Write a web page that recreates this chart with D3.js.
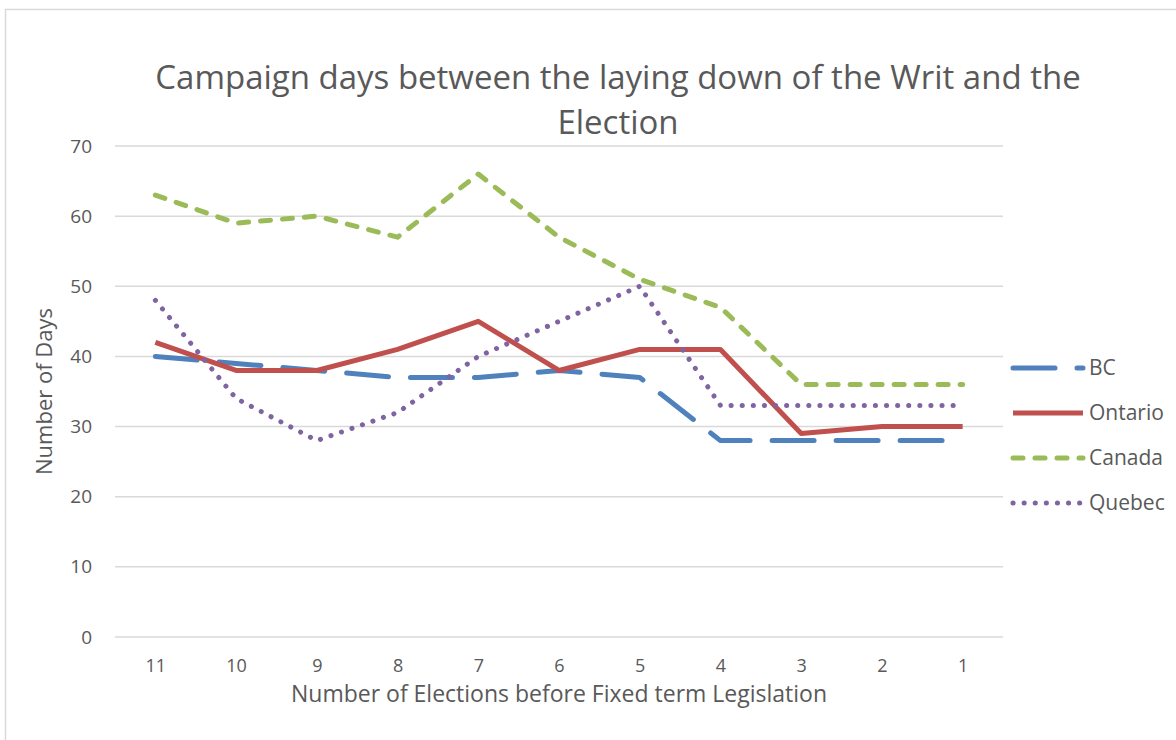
<!DOCTYPE html>
<html>
<head>
<meta charset="utf-8">
<script src="https://cdn.jsdelivr.net/npm/d3@7"></script>
<style>
  body { margin: 0; background: #fff; }
  text { font-family: "Open Sans", "Noto Sans", sans-serif; fill: #595959; }
</style>
</head>
<body>
<div id="chart"></div>
<script>
const width = 1176;
const height = 740;

const categories = ["11", "10", "9", "8", "7", "6", "5", "4", "3", "2", "1"];
const bcDays      = [40, 39, 38, 37, 37, 38, 37, 28, 28, 28, 28];
const ontarioDays = [42, 38, 38, 41, 45, 38, 41, 41, 29, 30, 30];
const canadaDays  = [63, 59, 60, 57, 66, 57, 51, 47, 36, 36, 36];
const quebecDays  = [48, 34, 28, 32, 40, 45, 50, 33, 33, 33, 33];
const yTicks = [0, 10, 20, 30, 40, 50, 60, 70];

const series = [
  { name: "BC", values: bcDays, color: "#4f81bd", dash: "42,22" },
  { name: "Ontario", values: ontarioDays, color: "#c0504d", dash: null },
  { name: "Canada", values: canadaDays, color: "#9bbb59", dash: "10,12" },
  { name: "Quebec", values: quebecDays, color: "#8064a2", dash: "0.1,11" }
];

const plot = { left: 115, right: 1003, top: 146, bottom: 637 };

const svg = d3.select("#chart")
  .append("svg")
  .attr("width", width)
  .attr("height", height);

// chart border
svg.append("rect")
  .attr("x", 5.5).attr("y", 9.5)
  .attr("width", width).attr("height", height)
  .attr("fill", "none")
  .attr("stroke", "#d9d9d9")
  .attr("stroke-width", 1.5);

const x = d3.scalePoint()
  .domain(categories)
  .range([plot.left, plot.right])
  .padding(0.5);

const y = d3.scaleLinear()
  .domain([0, 70])
  .range([plot.bottom, plot.top]);

// gridlines
svg.append("g")
  .selectAll("line")
  .data(yTicks)
  .enter()
  .append("line")
  .attr("x1", plot.left)
  .attr("x2", plot.right)
  .attr("y1", d => y(d))
  .attr("y2", d => y(d))
  .attr("stroke", "#d9d9d9")
  .attr("stroke-width", 1.5);

// y axis labels
const yAxis = d3.axisLeft(y).tickValues(yTicks).tickSize(0).tickPadding(0);
svg.append("g")
  .attr("transform", `translate(92,0)`)
  .call(yAxis)
  .call(g => g.select(".domain").remove())
  .call(g => g.selectAll("text")
    .attr("font-size", 19)
    .attr("fill", "#595959")
    .attr("font-family", "Open Sans, sans-serif"));

// x axis labels
const xAxis = d3.axisBottom(x).tickSize(0).tickPadding(0);
svg.append("g")
  .attr("transform", `translate(0,659)`)
  .call(xAxis)
  .call(g => g.select(".domain").remove())
  .call(g => g.selectAll("text")
    .attr("font-size", 18)
    .attr("fill", "#595959")
    .attr("font-family", "Open Sans, sans-serif"));

// lines
const line = d3.line()
  .x((d, i) => x(categories[i]))
  .y(d => y(d));

series.forEach(s => {
  svg.append("path")
    .datum(s.values)
    .attr("d", line)
    .attr("fill", "none")
    .attr("stroke", s.color)
    .attr("stroke-width", 5)
    .attr("stroke-linejoin", "round")
    .attr("stroke-linecap", s.dash ? "round" : "butt")
    .attr("stroke-dasharray", s.dash);
});

// title
const title = svg.append("text")
  .attr("text-anchor", "middle")
  .attr("font-size", 33);
title.append("tspan").attr("x", 618).attr("y", 89)
  .text("Campaign days between the laying down of the Writ and the");
title.append("tspan").attr("x", 618).attr("y", 134)
  .text("Election");

// axis titles
svg.append("text")
  .attr("x", (plot.left + plot.right) / 2)
  .attr("y", 702)
  .attr("text-anchor", "middle")
  .attr("font-size", 23)
  .text("Number of Elections before Fixed term Legislation");

svg.append("text")
  .attr("transform", `translate(52,${(plot.top + plot.bottom) / 2}) rotate(-90)`)
  .attr("text-anchor", "middle")
  .attr("font-size", 22)
  .text("Number of Days");

// legend
const legend = svg.append("g")
  .selectAll("g")
  .data(series)
  .enter()
  .append("g")
  .attr("transform", (d, i) => `translate(1013,${368 + i * 45})`);

legend.append("line")
  .attr("x1", 0).attr("x2", 70)
  .attr("stroke", d => d.color)
  .attr("stroke-width", 5)
  .attr("stroke-linecap", d => d.dash ? "round" : "butt")
  .attr("stroke-dasharray", d => d.dash);

legend.append("text")
  .attr("x", 76)
  .attr("y", 7)
  .attr("font-size", 21)
  .text(d => d.name);
</script>
</body>
</html>
